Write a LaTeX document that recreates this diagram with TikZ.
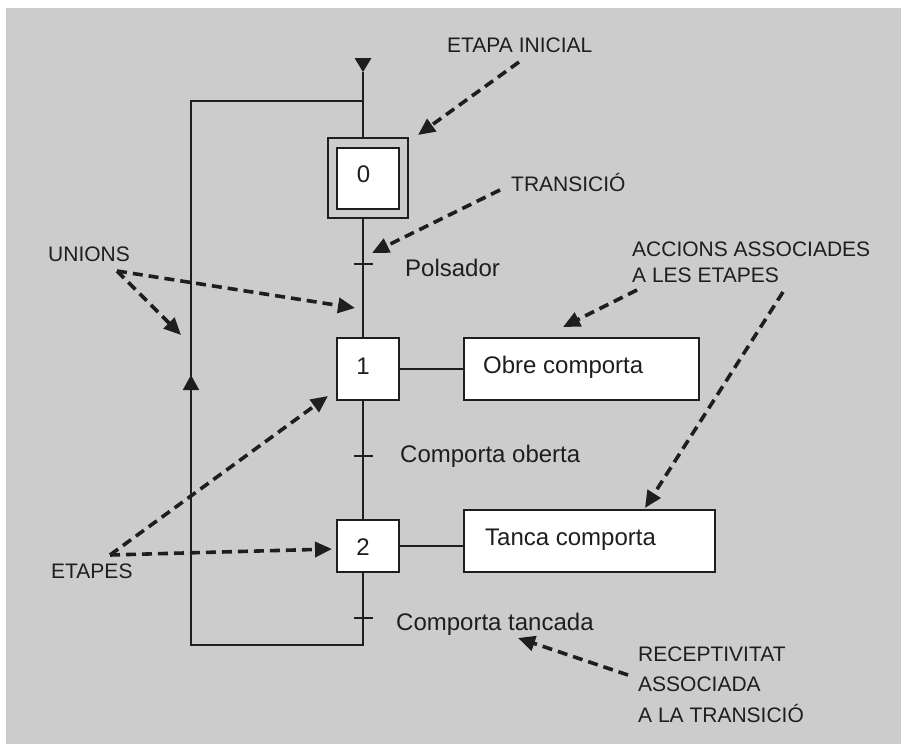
\documentclass[tikz,border=0pt]{standalone}
\usepackage{fontspec}
\setmainfont{Liberation Sans}
\usetikzlibrary{arrows.meta}
\definecolor{bggray}{HTML}{CCCCCC}
\definecolor{ink}{HTML}{1E1E1E}
\begin{document}
\begin{tikzpicture}[x=1pt,y=-1pt,
  wire/.style={draw=ink, line width=1.9pt},
  stepbox/.style={draw=ink, line width=1.9pt, fill=white, inner sep=0pt},
  actionbox/.style={draw=ink, line width=1.9pt, fill=white, inner sep=0pt},
  digit/.style={text=ink, font=\fontsize{24}{28}\selectfont, inner sep=0pt},
  cond/.style={text=ink, font=\fontsize{24}{28}\selectfont, inner sep=0pt, anchor=base west},
  note/.style={text=ink, font=\fontsize{21}{26}\selectfont, inner sep=0pt, anchor=base west},
  pointer/.style={draw=ink, line width=3.6pt, dash pattern=on 10pt off 6pt,
                  -{Triangle[length=17pt,width=15pt]}},
  entry/.style={fill=ink, draw=none}
]
% canvas
\useasboundingbox (0,0) rectangle (901,744);
\fill[white] (0,0) rectangle (901,744);
\fill[bggray] (6,8) rectangle (901,744);

% main spine and return loop
\coordinate (top)  at (363,72);
\coordinate (j)    at (363,101);
\coordinate (lt)   at (191,101);
\coordinate (lb)   at (191,645);
\coordinate (rb)   at (363,645);
\coordinate (lmid) at (191,375);
\draw[wire] (top) -- (rb) -- (lb) -- (lt) -- (j);
\draw[wire, -{Triangle[length=15pt,width=16pt]}] (lb) -- (lmid);

% initial entry marker
\fill[entry] (354.5,58) -- (371.5,58) -- (363,72) -- cycle;

% transition ticks
\coordinate (tk0) at (363,264);
\coordinate (tk1) at (363,456);
\coordinate (tk2) at (363,618);
\foreach \t in {tk0,tk1,tk2}
  \draw[wire] ([xshift=-9.5pt]\t) -- ([xshift=9.5pt]\t);

% steps
\node[stepbox, fill=bggray, minimum width=80pt, minimum height=80pt] (s0o) at (368,178) {};
\node[stepbox, minimum width=62pt, minimum height=61pt] (s0) at (368,178.5) {};
\node[stepbox, minimum width=62pt, minimum height=62pt] (s1) at (368,369) {};
\node[stepbox, minimum width=62pt, minimum height=52pt] (s2) at (368,546) {};
\node[digit] (n0) at (363.5,174) {0};
\node[digit] (n1) at (363,366) {1};
\node[digit] (n2) at (363,547) {2};

% actions
\node[actionbox, minimum width=235pt, minimum height=62pt] (a1) at (581.5,369) {};
\node[actionbox, minimum width=251pt, minimum height=62pt] (a2) at (589.5,541) {};
\draw[wire] (s1.east) -- (a1.west);
\draw[wire] (s2.east) -- (s2.east -| a2.west);
\node[cond] (t1) at (483,373) {Obre comporta};
\node[cond] (t2) at (485,545) {Tanca comporta};

% receptivities
\node[cond] (r0) at (405,276) {Polsador};
\node[cond] (r1) at (400,462) {Comporta oberta};
\node[cond] (r2) at (396,630) {Comporta tancada};

% annotation labels
\node[note] (lEI) at (447,52) {ETAPA INICIAL};
\node[note] (lTR) at (511,191) {TRANSICIÓ};
\node[note] (lUN) at (48,261) {UNIONS};
\node[note] (lET) at (51,578) {ETAPES};
\node[note] (lAC1) at (632,256) {ACCIONS ASSOCIADES};
\node[note] (lAC2) at (632,282) {A LES ETAPES};
\node[note] (lRE1) at (638,661) {RECEPTIVITAT};
\node[note] (lRE2) at (638,691) {ASSOCIADA};
\node[note] (lRE3) at (638,722) {A LA TRANSICIÓ};

% annotation pointers
\coordinate (pEI)  at (519,62);   \coordinate (qEI)  at (418,135);
\coordinate (pTR)  at (500,190);  \coordinate (qTR)  at (372,253);
\coordinate (pUN)  at (117,271);  \coordinate (qUN1) at (181,335);
                                  \coordinate (qUN2) at (355,308);
\coordinate (pET)  at (110,555);  \coordinate (qET1) at (328,396);
                                  \coordinate (qET2) at (332,549);
\coordinate (pAC1) at (637,290);  \coordinate (qAC1) at (563,327);
\coordinate (pAC2) at (783,292);  \coordinate (qAC2) at (645,508);
\coordinate (pRE)  at (628,675);  \coordinate (qRE)  at (518,638);
\draw[pointer] (pEI) -- (qEI);
\draw[pointer] (pTR) -- (qTR);
\draw[pointer] (pUN) -- (qUN1);
\draw[pointer] (pUN) -- (qUN2);
\draw[pointer] (pET) -- (qET1);
\draw[pointer] (pET) -- (qET2);
\draw[pointer] (pAC1) -- (qAC1);
\draw[pointer] (pAC2) -- (qAC2);
\draw[pointer] (pRE) -- (qRE);
\end{tikzpicture}
\end{document}
